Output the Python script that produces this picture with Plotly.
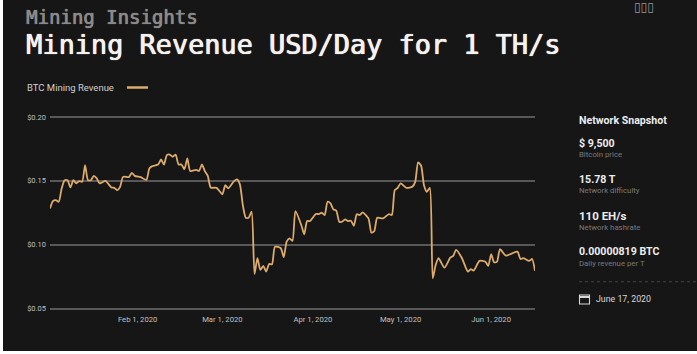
import plotly.graph_objects as go

dates = """2020-01-02 2020-01-03 2020-01-04 2020-01-05 2020-01-06 2020-01-07 2020-01-08 2020-01-09 2020-01-10 2020-01-11
2020-01-12 2020-01-13 2020-01-14 2020-01-15 2020-01-16 2020-01-17 2020-01-18 2020-01-19 2020-01-21 2020-01-23
2020-01-24 2020-01-25 2020-01-26 2020-01-27 2020-01-29 2020-01-30 2020-01-31 2020-02-02 2020-02-04 2020-02-05
2020-02-06 2020-02-08 2020-02-09 2020-02-10 2020-02-11 2020-02-12 2020-02-13 2020-02-14 2020-02-15 2020-02-16
2020-02-17 2020-02-18 2020-02-19 2020-02-21 2020-02-22 2020-02-23 2020-02-24 2020-02-25 2020-02-26 2020-02-28
2020-02-29 2020-03-01 2020-03-02 2020-03-03 2020-03-05 2020-03-06 2020-03-07 2020-03-08 2020-03-09 2020-03-10
2020-03-11 2020-03-12 2020-03-13 2020-03-14 2020-03-15 2020-03-16 2020-03-17 2020-03-18 2020-03-19 2020-03-21
2020-03-22 2020-03-23 2020-03-24 2020-03-25 2020-03-26 2020-03-28 2020-03-29 2020-03-30 2020-03-31 2020-04-02
2020-04-03 2020-04-04 2020-04-05 2020-04-06 2020-04-07 2020-04-08 2020-04-09 2020-04-10 2020-04-11 2020-04-12
2020-04-13 2020-04-14 2020-04-15 2020-04-16 2020-04-17 2020-04-18 2020-04-20 2020-04-21 2020-04-22 2020-04-23
2020-04-25 2020-04-27 2020-04-28 2020-04-29 2020-04-30 2020-05-01 2020-05-03 2020-05-05 2020-05-06 2020-05-07
2020-05-08 2020-05-09 2020-05-10 2020-05-11 2020-05-12 2020-05-13 2020-05-14 2020-05-16 2020-05-18 2020-05-19
2020-05-20 2020-05-22 2020-05-24 2020-05-25 2020-05-26 2020-05-28 2020-05-30 2020-05-31 2020-06-01 2020-06-02
2020-06-03 2020-06-04 2020-06-06 2020-06-08 2020-06-10 2020-06-11 2020-06-12 2020-06-14 2020-06-15 2020-06-16""".split()

revenue = [.1284, .1341, .1349, .1336, .1441, .1505, .1505, .1448, .1505, .1480,
           .1498, .1492, .1623, .1505, .1505, .1539, .1519, .1480, .1500, .1448,
           .1445, .1427, .1453, .1531, .1529, .1563, .1539, .1529, .1508, .1597,
           .1615, .1628, .1667, .1628, .1701, .1706, .1688, .1706, .1628, .1628,
           .1591, .1675, .1576, .1586, .1578, .1628, .1576, .1539, .1448, .1445,
           .1420, .1394, .1466, .1441, .1498, .1511, .1472, .1310, .1211, .1211,
           .1258, .0771, .0894, .0802, .0834, .0789, .0849, .0847, .0984, .0972,
           .0902, .1023, .1050, .1029, .1263, .1154, .1081, .1185, .1185, .1240,
           .1240, .1250, .1232, .1336, .1323, .1277, .1266, .1180, .1180, .1198,
           .1185, .1187, .1148, .1238, .1232, .1253, .1206, .1094, .1107, .1211,
           .1206, .1240, .1232, .1427, .1445, .1480, .1445, .1453, .1492, .1644,
           .1620, .1466, .1414, .1445, .0737, .0841, .0894, .0820, .0898, .0912,
           .0959, .0894, .0789, .0808, .0797, .0873, .0867, .0834, .0925, .0862,
           .0867, .0964, .0914, .0930, .0945, .0888, .0894, .0873, .0888, .0795]

x_tick_dates = ["2020-02-01", "2020-03-01", "2020-04-01", "2020-05-01", "2020-06-01"]
x_tick_labels = ["Feb 1, 2020", "Mar 1, 2020", "Apr 1, 2020", "May 1, 2020", "Jun 1, 2020"]
y_ticks = [0.05, 0.10, 0.15, 0.20]
y_tick_labels = ["$0.05", "$0.10", "$0.15", "$0.20"]

BG = "#161616"
LINE = "#DDAB6C"
W, H = 697, 354
L, R, T, B = 50, 535, 112, 313
Y_RANGE = [0.046475, 0.203917]


def px(x):
    return (x - L) / (R - L)


def py(y):
    return (B - y) / (B - T)


fig = go.Figure(go.Scatter(x=dates, y=revenue, mode="lines", hoverinfo="skip",
                           line=dict(color=LINE, width=1.8, shape="spline", smoothing=0.6)))


def text(x, y, s, size, color, family="Roboto", weight=None, shadow=None):
    label = f"<b>{s}</b>" if weight == "bold" else s
    font = dict(size=size, color=color, family=family)
    if shadow:
        font["shadow"] = shadow
    fig.add_annotation(xref="paper", yref="paper", x=px(x), y=py(y), text=label, showarrow=False,
                       xanchor="left", yanchor="middle", align="left", font=font)


MONO = "DejaVu Sans Mono"
text(24, 16.5, "Mining Insights", 19, "#8A8A8A", MONO, shadow="0 0 1px #8A8A8A, 0.4px 0 0 #8A8A8A")
text(24, 44.5, "Mining Revenue USD/Day for 1 TH/s", 26.9, "#F2F2F2", MONO,
     shadow="0 0 1px #F2F2F2, 0.6px 0 0 #F2F2F2")
text(24.5, 87, "BTC Mining Revenue", 9.5, "#D0D0D0")
text(632, 7, "▯▯▯", 12, "#9A9A9A", "DejaVu Sans")

text(577, 120, "Network Snapshot", 10.6, "#EDEDED", weight="bold")
text(577, 143, "$ 9,500", 10.6, "#EDEDED", weight="bold")
text(577, 154.5, "Bitcoin price", 7.8, "#7A7A7A")
text(577, 179, "15.78 T", 10.6, "#EDEDED", weight="bold")
text(577, 190.5, "Network difficulty", 7.8, "#7A7A7A")
text(577, 215.5, "110 EH/s", 11.5, "#EDEDED", weight="bold")
text(577, 227, "Network hashrate", 7.8, "#7A7A7A")
text(577, 251.5, "0.00000819 BTC", 10.6, "#EDEDED", weight="bold")
text(577, 263, "Daily revenue per T", 7.8, "#7A7A7A")
text(593.5, 299, "June 17, 2020", 8.8, "#D8D8D8")


def shape(kind, x0, y0, x1, y1, **kw):
    fig.add_shape(type=kind, xref="paper", yref="paper", x0=px(x0), x1=px(x1), y0=py(y0), y1=py(y1),
                  layer="above", **kw)


shape("line", 127, 87.5, 148, 87.5, line=dict(color=LINE, width=2.5))
shape("line", 579, 281.7, 697, 281.7, line=dict(color="#444444", width=1, dash="dot"))
shape("rect", 579.5, 295, 589.5, 304, line=dict(color="#D8D8D8", width=1.1))
shape("line", 579.5, 297, 589.5, 297, line=dict(color="#D8D8D8", width=2))
# white page edge around the dark card
shape("rect", 0, 0, 3, H, fillcolor="#FFFFFF", line=dict(width=0))
shape("rect", 0, 351, W, H, fillcolor="#FFFFFF", line=dict(width=0))

fig.update_layout(
    width=W, height=H, autosize=False, showlegend=False,
    paper_bgcolor=BG, plot_bgcolor=BG,
    margin=dict(l=L, r=W - R, t=T, b=H - B, pad=0),
    font=dict(family="Roboto", color="#B8B8B8", size=8),
    xaxis=dict(type="date", range=["2020-01-02", "2020-06-16"], tickmode="array",
               tickvals=x_tick_dates, ticktext=x_tick_labels, showgrid=False, zeroline=False,
               showline=False, ticks="", tickfont=dict(size=7.7, color="#C0C0C0")),
    yaxis=dict(range=Y_RANGE, tickmode="array", tickvals=y_ticks, ticktext=y_tick_labels,
               showgrid=True, gridcolor="#585858", gridwidth=1.5, zeroline=False, showline=False,
               ticks="", tickfont=dict(size=7.5, color="#C0C0C0"), ticklabelstandoff=3),
)

fig.write_html("out.html", config=dict(displayModeBar=False),
               post_script="document.body.style.margin='0';document.body.style.overflow='hidden';")
